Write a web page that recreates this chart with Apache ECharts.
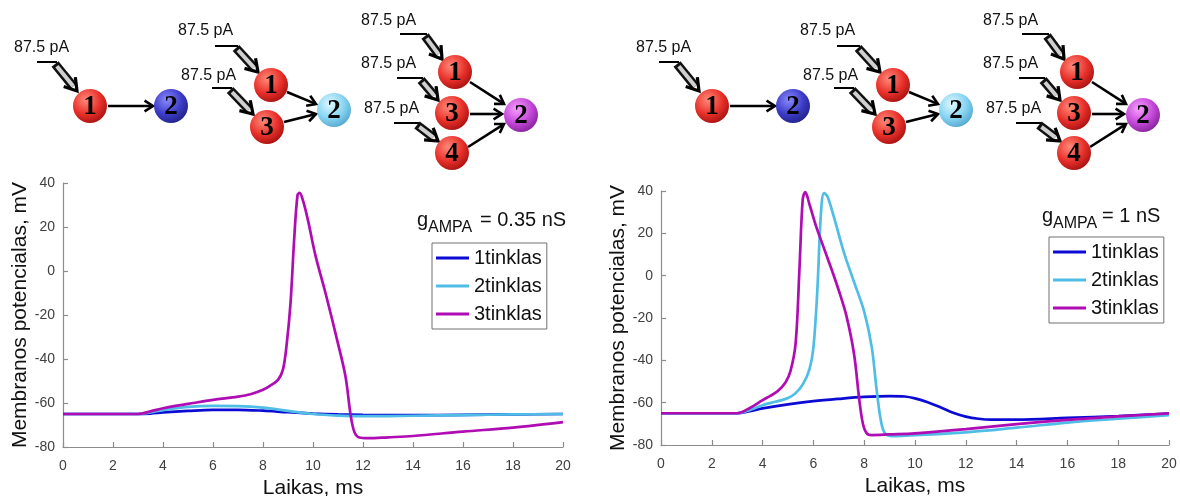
<!DOCTYPE html>
<html><head><meta charset="utf-8">
<script src="https://cdn.jsdelivr.net/npm/echarts@6/dist/echarts.min.js"></script>
<style>html,body{margin:0;padding:0;background:#fff}#c{width:1180px;height:496px}</style>
</head><body><div id="c"></div>
<script>
// ---------- data ----------
const seriesNames = ['1tinklas', '2tinklas', '3tinklas'];
const seriesColors = ['#0b0bd4', '#4fbde6', '#b00cb4'];
const xAxisTitle = 'Laikas, ms';
const yAxisTitle = 'Membranos potencialas, mV';
const leftCondition = '= 0.35 nS';
const rightCondition = '= 1 nS';
const inputLabel = '87.5 pA';

// Left panel (gAMPA = 0.35 nS)
const leftT1 = [0, 3, 3.5, 4, 5, 6, 7, 8, 9, 10, 11, 12, 14, 16, 18, 20];
const leftV1 = [-65, -65, -64.8, -64.3, -63.6, -63.1, -63.1, -63.5, -64.2, -64.8, -65.2, -65.4, -65.5, -65.4, -65.2, -65];
const leftT2 = [0, 3, 3.5, 4, 5, 6, 7, 8, 9, 10, 11, 12, 14, 16, 18, 20];
const leftV2 = [-65, -65, -64.3, -63.2, -61.8, -61.3, -61.4, -62.1, -63.6, -65, -65.7, -66, -65.8, -65.5, -65.2, -65];
const leftT3 = [0, 3, 3.5, 4, 4.5, 5, 6, 7, 7.5, 8, 8.3, 8.6, 8.8, 8.95, 9.1, 9.25, 9.38, 9.46, 9.6, 9.8, 10.1, 10.5, 11.0, 11.3, 11.5, 11.65, 11.85, 12.2, 13, 14, 16, 18, 20];
const leftV3 = [-65, -65, -63.8, -62.4, -61.3, -60.4, -58.6, -57.1, -56, -54, -52, -49.5, -44.7, -33, -14.7, 15, 34.5, 35.5, 32, 23, 7, -10, -33, -48, -65, -73, -75.7, -76, -75.6, -75, -73, -71.2, -68.7];

// Right panel (gAMPA = 1 nS)
const rightT1 = [0, 3, 3.5, 4, 5, 6, 7, 8, 9, 9.6, 10, 10.5, 11, 11.5, 12, 12.5, 13, 14, 16, 18, 20];
const rightV1 = [-65, -65, -64, -62.7, -60.8, -59.3, -58.2, -57.3, -56.9, -57.1, -58, -59.8, -62.2, -64.8, -66.6, -67.6, -68, -68, -67.2, -66.3, -65.2];
const rightT2 = [0, 3, 3.5, 4, 4.5, 5, 5.3, 5.6, 5.85, 6.0, 6.15, 6.3, 6.42, 6.55, 6.8, 7.2, 7.6, 8.0, 8.3, 8.5, 8.7, 8.9, 9.2, 10, 12, 14, 16, 18, 20];
const rightV2 = [-65, -65, -63.5, -61.2, -59.6, -57.8, -55.5, -51, -44, -34, -8, 30, 39, 37.5, 28, 11, -3, -17, -34, -55, -71, -75.3, -75.8, -75.4, -74, -71.8, -69.4, -67.6, -65.9];
const rightT3 = [0, 3, 3.5, 4, 4.3, 4.6, 4.9, 5.1, 5.3, 5.45, 5.58, 5.68, 5.85, 6.1, 6.4, 6.7, 7.0, 7.3, 7.6, 7.8, 7.95, 8.1, 8.3, 9, 10, 12, 14, 16, 18, 20];
const rightV3 = [-65, -65, -62.5, -58.8, -56.8, -54.5, -50.5, -45, -32, 3, 36, 39.5, 33.5, 23.5, 13.5, 3.5, -7, -19, -37, -58, -70, -74.5, -75.3, -75, -74.5, -72.5, -70.1, -68.1, -66.5, -65.1];

const xMin = 0, xMax = 20, xStep = 2;
const yMin = -80, yMax = 40, yStep = 20;

// ---------- helpers ----------
const FONT = 'Arial, "Liberation Sans", Helvetica, sans-serif';
function pairs(t, v) { return t.map((x, i) => [x, v[i]]); }

const panels = [
  { grid: { left: 63, top: 183, width: 500, height: 264 }, data: [[leftT1, leftV1], [leftT2, leftV2], [leftT3, leftV3]] },
  { grid: { left: 661, top: 191, width: 508, height: 254 }, data: [[rightT1, rightV1], [rightT2, rightV2], [rightT3, rightV3]] }
];

const axisCommon = {
  axisLine: { show: true, onZero: false, lineStyle: { color: '#8c8c8c', width: 1.2 } },
  axisTick: { show: true, inside: true, length: 5, lineStyle: { color: '#8c8c8c', width: 1.2 } },
  splitLine: { show: false },
  axisLabel: { color: '#404040', fontSize: 14, fontFamily: FONT },
  nameTextStyle: { color: '#111', fontSize: 21, fontFamily: FONT }
};

const xAxes = panels.map((p, i) => Object.assign({}, axisCommon, {
  type: 'value', gridIndex: i, min: xMin, max: xMax, interval: xStep,
  name: xAxisTitle, nameLocation: 'middle', nameGap: 29,
  axisLabel: Object.assign({}, axisCommon.axisLabel, { margin: 12 })
}));
const yAxes = panels.map((p, i) => Object.assign({}, axisCommon, {
  type: 'value', gridIndex: i, min: yMin, max: yMax, interval: yStep,
  name: yAxisTitle, nameLocation: 'middle', nameGap: 32,
  axisLabel: Object.assign({}, axisCommon.axisLabel, { margin: 8 })
}));

const series = [];
panels.forEach((p, pi) => {
  p.data.forEach((d, si) => {
    series.push({
      type: 'line', name: seriesNames[si], xAxisIndex: pi, yAxisIndex: pi,
      data: pairs(d[0], d[1]), symbol: 'none', showSymbol: false,
      smooth: 0.35,
      lineStyle: { width: 2.7, color: seriesColors[si] },
      itemStyle: { color: seriesColors[si] }, z: 2 + si
    });
  });
});

const legendCommon = {
  orient: 'vertical', data: seriesNames, icon: 'rect', itemWidth: 33, itemHeight: 3, itemGap: 8,
  textStyle: { fontSize: 20, color: '#111', fontFamily: FONT },
  backgroundColor: '#fff', borderColor: '#707070', borderWidth: 1, padding: [5, 5, 5, 4],
  selectedMode: false
};
const legends = [
  Object.assign({}, legendCommon, { left: 432, top: 243 }),
  Object.assign({}, legendCommon, { left: 1049, top: 237 })
];

// ---------- diagrams ----------
const G = [];
const NODE_COL = {
  red: ['#ff8a7a', '#e8302a', '#9a0c0c'],
  blue: ['#8a8aff', '#3c3cc8', '#1c1c7a'],
  cyan: ['#e0f8ff', '#86d4f2', '#4a9ec6'],
  purple: ['#f8a0ff', '#c448d8', '#7a1c8c']
};
function node(x, y, label, col) {
  const c = NODE_COL[col];
  G.push({ type: 'circle', z: 20, shape: { cx: x, cy: y, r: 17 },
    style: { fill: { type: 'radial', x: 0.38, y: 0.32, r: 0.78,
      colorStops: [{ offset: 0, color: c[0] }, { offset: 0.55, color: c[1] }, { offset: 1, color: c[2] }] } } });
  G.push({ type: 'text', z: 21, x: x, y: y + 1,
    style: { text: label, font: 'bold 27px "Liberation Serif", "Times New Roman", serif', fill: '#000',
      align: 'center', verticalAlign: 'middle', textAlign: 'center', textVerticalAlign: 'middle' } });
}
function head(x2, y2, ang, size, w) {
  const a1 = ang + Math.PI * 0.82, a2 = ang - Math.PI * 0.82;
  G.push({ type: 'polyline', z: 15, shape: { points: [
      [x2 + size * Math.cos(a1), y2 + size * Math.sin(a1)], [x2, y2], [x2 + size * Math.cos(a2), y2 + size * Math.sin(a2)]] },
    style: { stroke: '#000', lineWidth: w, fill: null, lineJoin: 'miter' } });
}
function arrow(x1, y1, x2, y2) {
  const ang = Math.atan2(y2 - y1, x2 - x1);
  G.push({ type: 'line', z: 15, shape: { x1, y1, x2: x2 - Math.cos(ang), y2: y2 - Math.sin(ang) },
    style: { stroke: '#000', lineWidth: 2.6 } });
  head(x2, y2, ang, 10, 2.6);
}
function input(lx, ly, hx0, hy, hx1, tx, ty) {
  G.push({ type: 'text', z: 15, x: lx, y: ly,
    style: { text: inputLabel, font: '16px ' + FONT, fill: '#111', align: 'left', verticalAlign: 'middle',
      textAlign: 'left', textVerticalAlign: 'middle' } });
  G.push({ type: 'line', z: 14, shape: { x1: hx0, y1: hy, x2: hx1, y2: hy }, style: { stroke: '#000', lineWidth: 2 } });
  const sx = hx1 - 2, sy = hy + 2;
  const ang = Math.atan2(ty - sy, tx - sx);
  const ex = tx - 6 * Math.cos(ang), ey = ty - 6 * Math.sin(ang);
  G.push({ type: 'line', z: 14, shape: { x1: sx, y1: sy, x2: ex, y2: ey }, style: { stroke: '#111', lineWidth: 9 } });
  G.push({ type: 'line', z: 14, shape: { x1: sx + 3 * Math.cos(ang), y1: sy + 3 * Math.sin(ang), x2: ex, y2: ey }, style: { stroke: '#d0d0d0', lineWidth: 4 } });
  head(tx, ty, ang, 14, 3.2);
}
function diagrams(dx) {
  // network 1
  input(dx + 14, 48, dx + 37, 62, dx + 57, dx + 77, 91);
  node(dx + 90, 106, '1', 'red');
  arrow(dx + 108, 106, dx + 153, 106);
  node(dx + 171, 106, '2', 'blue');
  // network 2
  input(dx + 178, 31, dx + 215, 46, dx + 238, dx + 258, 72);
  input(dx + 181, 76, dx + 212, 88, dx + 232, dx + 253, 114);
  node(dx + 271, 85, '1', 'red');
  node(dx + 267, 127, '3', 'red');
  arrow(dx + 287, 92, dx + 316, 104);
  arrow(dx + 284, 122, dx + 316, 114);
  node(dx + 334, 110, '2', 'cyan');
  // network 3
  input(dx + 361, 21, dx + 400, 34, dx + 427, dx + 442, 59);
  input(dx + 361, 64, dx + 397, 78, dx + 423, dx + 438, 100);
  input(dx + 364, 109, dx + 394, 123, dx + 419, dx + 438, 141);
  node(dx + 455, 72, '1', 'red');
  node(dx + 452, 113, '3', 'red');
  node(dx + 452, 153, '4', 'red');
  arrow(dx + 470, 82, dx + 504, 104);
  arrow(dx + 470, 114, dx + 502, 114);
  arrow(dx + 468, 147, dx + 504, 124);
  node(dx + 521, 115, '2', 'purple');
}
diagrams(0);
diagrams(622);

// g_AMPA annotations (y = vertical middle of each text line)
function gLabel(x, mid, cond, condX) {
  const st = (t, f) => ({ text: t, font: f + 'px ' + FONT, fill: '#111', align: 'left', verticalAlign: 'middle', textAlign: 'left', textVerticalAlign: 'middle' });
  G.push({ type: 'text', z: 30, x: x, y: mid, style: st('g', 20) });
  G.push({ type: 'text', z: 30, x: x + 11, y: mid + 8, style: st('AMPA', 16) });
  G.push({ type: 'text', z: 30, x: condX, y: mid, style: st(cond, 20) });
}
gLabel(417, 220, leftCondition, 480);
gLabel(1042, 216, rightCondition, 1102);

const chart = echarts.init(document.getElementById('c'), null, { renderer: 'canvas' });
chart.setOption({
  animation: false,
  backgroundColor: '#fff',
  grid: panels.map(p => Object.assign({ containLabel: false, outerBoundsMode: 'none' }, p.grid)),
  xAxis: xAxes,
  yAxis: yAxes,
  legend: legends,
  series: series,
  graphic: { elements: G }
});
</script></body></html>
